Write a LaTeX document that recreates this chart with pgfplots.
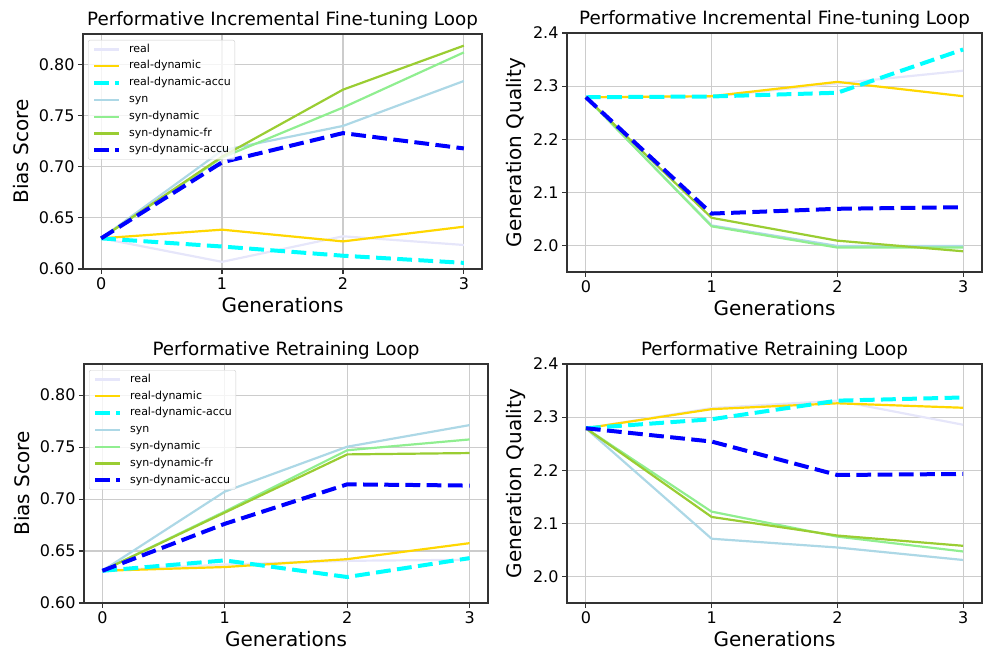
\documentclass[border=0pt]{standalone}
\usepackage{fontspec}
\setmainfont{DejaVu Sans}
\usepackage{pgfplots}
\pgfplotsset{compat=1.18}
\usepackage{pgfplotstable}

\definecolor{clav}{RGB}{230,230,250}
\definecolor{cgold}{RGB}{255,215,0}
\definecolor{ccyan}{RGB}{0,255,255}
\definecolor{clblue}{RGB}{173,216,230}
\definecolor{clgreen}{RGB}{144,238,144}
\definecolor{cygreen}{RGB}{154,205,50}
\definecolor{cblue}{RGB}{0,0,255}

% gen real rdyn rdacc syn sdyn sdfr sdacc
\pgfplotstableread{
gen real  rdyn   rdacc  syn    sdyn   sdfr   sdacc
0   0.630 0.630  0.630  0.630  0.630  0.630  0.630
1   0.607 0.6385 0.622  0.716  0.709  0.710  0.7044
2   0.632 0.627  0.613  0.740  0.758  0.7755 0.733
3   0.6235 0.6414 0.606 0.784  0.812  0.8186 0.718
}\biasinc
\pgfplotstableread{
gen real  rdyn   rdacc  syn    sdyn   sdfr   sdacc
0   2.279 2.279  2.279  2.279  2.279  2.279  2.279
1   2.280 2.281  2.2805 2.0376 2.036  2.052  2.060
2   2.305 2.308  2.2875 1.999  1.996  2.009  2.069
3   2.329 2.281  2.369  1.999  1.996  1.989  2.072
}\qualinc
\pgfplotstableread{
gen real  rdyn   rdacc  syn    sdyn   sdfr   sdacc
0   0.631 0.631  0.631  0.631  0.631  0.631  0.631
1   0.637 0.6346 0.641  0.7072 0.688  0.687  0.6762
2   0.6406 0.6422 0.625 0.7504 0.747  0.743  0.7142
3   0.6416 0.6576 0.6432 0.7712 0.7574 0.7443 0.713
}\biasret
\pgfplotstableread{
gen real  rdyn   rdacc  syn    sdyn   sdfr   sdacc
0   2.279 2.279  2.279  2.279  2.279  2.279  2.279
1   2.317 2.315  2.296  2.071  2.122  2.112  2.254
2   2.331 2.326  2.331  2.0545 2.075  2.077  2.191
3   2.2856 2.3176 2.337 2.031  2.047  2.0577 2.193
}\qualret

\pgfplotsset{
  panel/.style={
    scale only axis,
    xmin=-0.15, xmax=3.15, xtick={0,1,2,3},
    grid=major,
    major grid style={black!20, line width=1.1pt},
    axis line style={black!80, line width=1.1pt},
    tick align=outside, tick pos=left,
    major tick length=5pt,
    tick style={black!80, line width=1.1pt},
    tick label style={font=\fontsize{16}{16}\selectfont},
    /pgf/number format/assume math mode=true,
    every axis title/.style={font=\fontsize{18.3}{18.3}\selectfont, at={(0.5,1)},
      anchor=south, inner sep=0pt, yshift=4.5pt},
    xlabel=Generations,
    xlabel style={font=\fontsize{20}{20}\selectfont,
      at={(axis description cs:0.5,0)}, anchor=north, inner sep=0pt, yshift=-28pt},
    every axis y label/.style={font=\fontsize{20}{20}\selectfont,
      rotate=90, anchor=center, inner sep=0pt},
    legend cell align=left,
    legend image code/.code={\draw[##1] (0pt,0pt) -- (25pt,0pt);},
    legend style={at={(0,1)}, anchor=north west, xshift=5pt, yshift=-6pt,
      draw=black!20, rounded corners=2pt, fill=white, fill opacity=0.8,
      text opacity=1, inner sep=4pt,
      font=\fontsize{11}{11}\selectfont,
      nodes={inner sep=0pt, text height=8pt, text depth=2.5pt},
      row sep=6.3pt, column sep=8pt},
  },
  bias/.style={ymin=0.6, ymax=0.83,
    ytick={0.60,0.65,0.70,0.75,0.80},
    yticklabel style={/pgf/number format/.cd, fixed, fixed zerofill, precision=2},
    ylabel={Bias Score}},
  qual/.style={ymin=1.95, ymax=2.4,
    ytick={2.0,2.1,2.2,2.3,2.4},
    yticklabel style={/pgf/number format/.cd, fixed, fixed zerofill, precision=1},
    ylabel={Generation Quality}},
  sreal/.style={color=clav, line width=2.2pt},
  srdyn/.style={color=cgold, line width=2.2pt},
  srdacc/.style={color=ccyan, line width=4pt, dash pattern=on 14.8pt off 6.4pt},
  ssyn/.style={color=clblue, line width=2.2pt},
  ssdyn/.style={color=clgreen, line width=2.2pt},
  ssdfr/.style={color=cygreen, line width=2.2pt},
  ssdacc/.style={color=cblue, line width=4pt, dash pattern=on 14.8pt off 6.4pt},
}

\begin{document}
\begin{tikzpicture}

% top left
\begin{axis}[panel, bias, at={(83pt,398pt)}, anchor=south west,
  width=399pt, height=235pt,
  title={Performative Incremental Fine-tuning Loop},
  ylabel style={at={(axis description cs:-0.155,0.5)}}]
  \addplot[sreal]  table[x=gen,y=real]  {\biasinc}; \addlegendentry{real}
  \addplot[srdyn]  table[x=gen,y=rdyn]  {\biasinc}; \addlegendentry{real-dynamic}
  \addplot[srdacc] table[x=gen,y=rdacc] {\biasinc}; \addlegendentry{real-dynamic-accu}
  \addplot[ssyn]   table[x=gen,y=syn]   {\biasinc}; \addlegendentry{syn}
  \addplot[ssdyn]  table[x=gen,y=sdyn]  {\biasinc}; \addlegendentry{syn-dynamic}
  \addplot[ssdfr]  table[x=gen,y=sdfr]  {\biasinc}; \addlegendentry{syn-dynamic-fr}
  \addplot[ssdacc] table[x=gen,y=sdacc] {\biasinc}; \addlegendentry{syn-dynamic-accu}
\end{axis}

% top right
\begin{axis}[panel, qual, at={(567pt,395pt)}, anchor=south west,
  width=415pt, height=239pt,
  title={Performative Incremental Fine-tuning Loop},
  ylabel style={at={(axis description cs:-0.123,0.5)}}]
  \addplot[sreal]  table[x=gen,y=real]  {\qualinc};
  \addplot[srdyn]  table[x=gen,y=rdyn]  {\qualinc};
  \addplot[srdacc] table[x=gen,y=rdacc] {\qualinc};
  \addplot[ssyn]   table[x=gen,y=syn]   {\qualinc};
  \addplot[ssdyn]  table[x=gen,y=sdyn]  {\qualinc};
  \addplot[ssdfr]  table[x=gen,y=sdfr]  {\qualinc};
  \addplot[ssdacc] table[x=gen,y=sdacc] {\qualinc};
\end{axis}

% bottom left
\begin{axis}[panel, bias, at={(84pt,64pt)}, anchor=south west,
  width=404pt, height=239pt,
  title={Performative Retraining Loop},
  ylabel style={at={(axis description cs:-0.153,0.5)}}]
  \addplot[sreal]  table[x=gen,y=real]  {\biasret}; \addlegendentry{real}
  \addplot[srdyn]  table[x=gen,y=rdyn]  {\biasret}; \addlegendentry{real-dynamic}
  \addplot[srdacc] table[x=gen,y=rdacc] {\biasret}; \addlegendentry{real-dynamic-accu}
  \addplot[ssyn]   table[x=gen,y=syn]   {\biasret}; \addlegendentry{syn}
  \addplot[ssdyn]  table[x=gen,y=sdyn]  {\biasret}; \addlegendentry{syn-dynamic}
  \addplot[ssdfr]  table[x=gen,y=sdfr]  {\biasret}; \addlegendentry{syn-dynamic-fr}
  \addplot[ssdacc] table[x=gen,y=sdacc] {\biasret}; \addlegendentry{syn-dynamic-accu}
\end{axis}

% bottom right
\begin{axis}[panel, qual, at={(567pt,64pt)}, anchor=south west,
  width=415pt, height=239pt,
  title={Performative Retraining Loop},
  ylabel style={at={(axis description cs:-0.123,0.5)}}]
  \addplot[sreal]  table[x=gen,y=real]  {\qualret};
  \addplot[srdyn]  table[x=gen,y=rdyn]  {\qualret};
  \addplot[srdacc] table[x=gen,y=rdacc] {\qualret};
  \addplot[ssyn]   table[x=gen,y=syn]   {\qualret};
  \addplot[ssdyn]  table[x=gen,y=sdyn]  {\qualret};
  \addplot[ssdfr]  table[x=gen,y=sdfr]  {\qualret};
  \addplot[ssdacc] table[x=gen,y=sdacc] {\qualret};
\end{axis}

\pgfresetboundingbox
\path (0pt,0pt) rectangle (996pt,667pt);
\end{tikzpicture}
\end{document}
